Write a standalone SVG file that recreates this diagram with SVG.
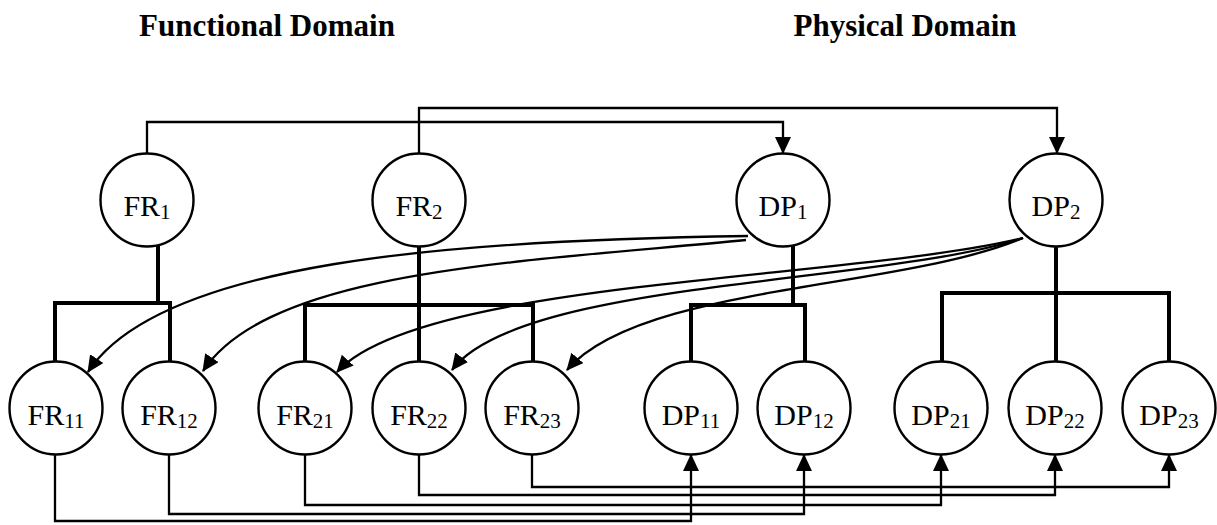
<svg xmlns="http://www.w3.org/2000/svg" width="1217" height="525" viewBox="0 0 1217 525">
<style>
.title{font-family:"Liberation Serif","Times New Roman",serif;font-weight:bold;font-size:31px;fill:#000;text-anchor:middle}
.node circle{fill:#fff;stroke:#000;stroke-width:2.4}
.lbl{font-family:"Liberation Serif","Times New Roman",serif;font-size:30px;fill:#000;text-anchor:middle}
.sub{font-size:21px}
.thin{fill:none;stroke:#000;stroke-width:2.3}
.thick{fill:none;stroke:#000;stroke-width:4}
.arr{marker-end:url(#ah)}
</style>
<defs>
<marker id="ah" markerUnits="userSpaceOnUse" markerWidth="20" markerHeight="18" refX="16" refY="8" orient="auto">
<path d="M0,0 L17,8 L0,16 z" fill="#000"/>
</marker>
</defs>
<rect width="1217" height="525" fill="#fff"/>
<text class="title" x="267" y="36">Functional Domain</text>
<text class="title" x="905" y="36">Physical Domain</text>

<g id="connectors">
<!-- hierarchy (thick) -->
<path class="thick" d="M158,245 V303 M55,362 V303 H170 V362"/>
<path class="thick" d="M419,246 V361 M305,362 V305 H533 V362"/>
<path class="thick" d="M793,245 V305 M691,362 V305 H805 V362"/>
<path class="thick" d="M1056,246 V361 M942,362 V293 H1169 V362"/>
<!-- top mapping arrows -->
<path class="thin arr" d="M147,153 V122 H783 V153"/>
<path class="thin arr" d="M419,153 V108 H1057 V153"/>
<!-- curved arrows DP1 -->
<path class="thin arr" d="M748,236 C450,240 160,262 88,372"/>
<path class="thin arr" d="M746,240 C520,262 270,270 203,371"/>
<!-- curved arrows DP2 -->
<path class="thin arr" d="M1023,238 C850,280 420,280 337,372"/>
<path class="thin arr" d="M1023,238 C880,285 520,280 452,370"/>
<path class="thin arr" d="M1023,238 C900,290 640,285 567,370"/>
<!-- bottom mapping arrows -->
<path class="thin arr" d="M55,455 V521 H691 V455"/>
<path class="thin arr" d="M169,455 V514 H804 V455"/>
<path class="thin arr" d="M305,455 V505 H941 V455"/>
<path class="thin arr" d="M419,455 V495 H1055 V455"/>
<path class="thin arr" d="M532,455 V487 H1169 V455"/>
</g>

<g id="FR1" class="node"><circle cx="147" cy="200" r="46.5"/><text class="lbl" x="147" y="216">FR<tspan class="sub" dy="3">1</tspan></text></g>
<g id="FR2" class="node"><circle cx="419" cy="200" r="46.5"/><text class="lbl" x="419" y="216">FR<tspan class="sub" dy="3">2</tspan></text></g>
<g id="DP1" class="node"><circle cx="783" cy="200" r="46.5"/><text class="lbl" x="783" y="216">DP<tspan class="sub" dy="3">1</tspan></text></g>
<g id="DP2" class="node"><circle cx="1056" cy="200" r="46.5"/><text class="lbl" x="1056" y="216">DP<tspan class="sub" dy="3">2</tspan></text></g>

<g id="FR11" class="node"><circle cx="56" cy="408" r="46.5"/><text class="lbl" x="56" y="425">FR<tspan class="sub" dy="3">11</tspan></text></g>
<g id="FR12" class="node"><circle cx="169" cy="408" r="46.5"/><text class="lbl" x="169" y="425">FR<tspan class="sub" dy="3">12</tspan></text></g>
<g id="FR21" class="node"><circle cx="305" cy="408" r="46.5"/><text class="lbl" x="305" y="425">FR<tspan class="sub" dy="3">21</tspan></text></g>
<g id="FR22" class="node"><circle cx="419" cy="408" r="46.5"/><text class="lbl" x="419" y="425">FR<tspan class="sub" dy="3">22</tspan></text></g>
<g id="FR23" class="node"><circle cx="532" cy="408" r="46.5"/><text class="lbl" x="532" y="425">FR<tspan class="sub" dy="3">23</tspan></text></g>
<g id="DP11" class="node"><circle cx="691" cy="408" r="46.5"/><text class="lbl" x="691" y="425">DP<tspan class="sub" dy="3">11</tspan></text></g>
<g id="DP12" class="node"><circle cx="804" cy="408" r="46.5"/><text class="lbl" x="804" y="425">DP<tspan class="sub" dy="3">12</tspan></text></g>
<g id="DP21" class="node"><circle cx="941" cy="408" r="46.5"/><text class="lbl" x="941" y="425">DP<tspan class="sub" dy="3">21</tspan></text></g>
<g id="DP22" class="node"><circle cx="1055" cy="408" r="46.5"/><text class="lbl" x="1055" y="425">DP<tspan class="sub" dy="3">22</tspan></text></g>
<g id="DP23" class="node"><circle cx="1169" cy="408" r="46.5"/><text class="lbl" x="1169" y="425">DP<tspan class="sub" dy="3">23</tspan></text></g>
</svg>
